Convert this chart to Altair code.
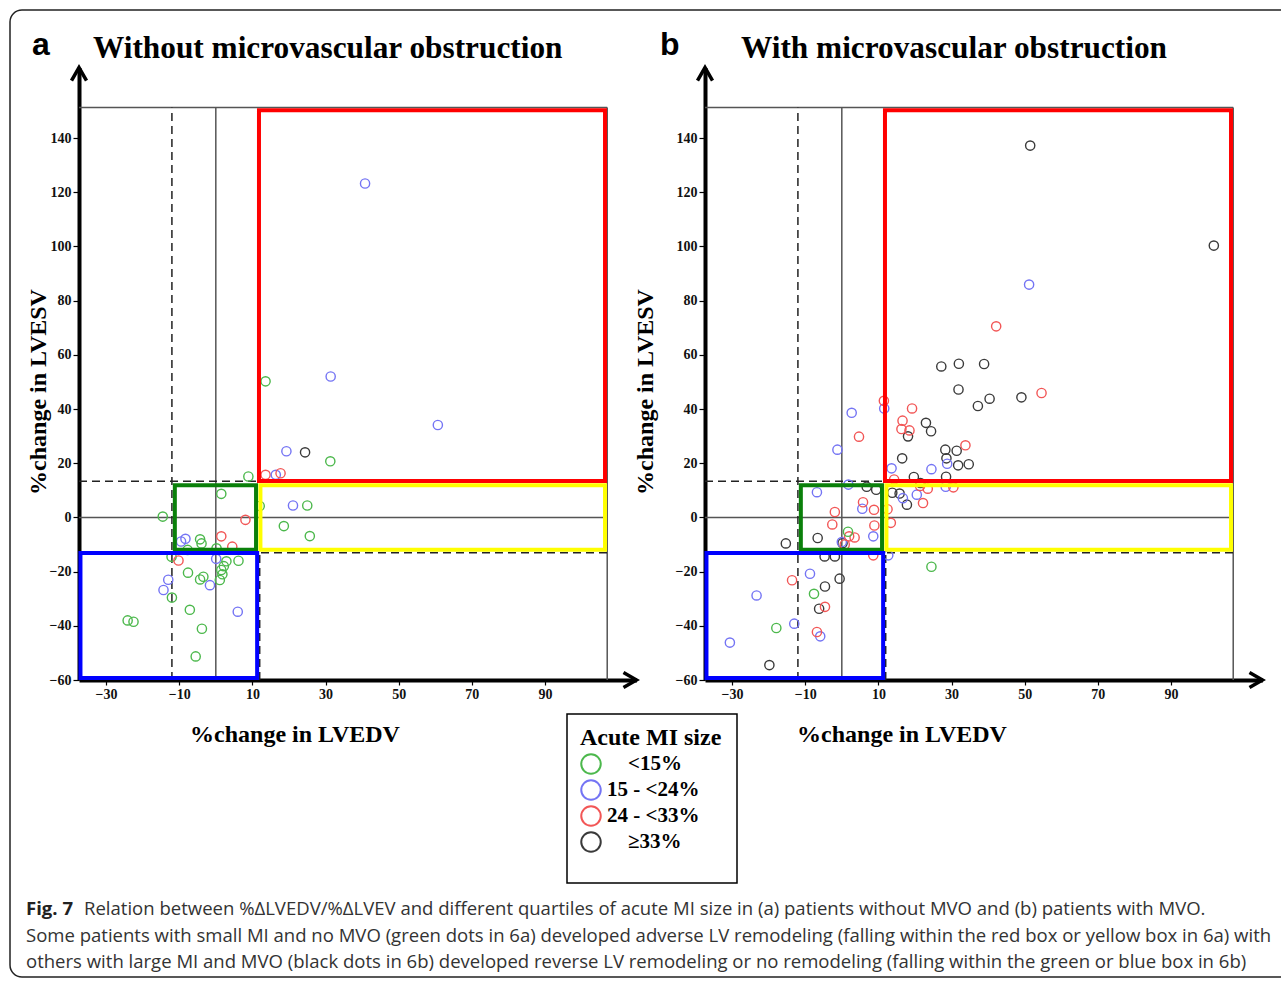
import altair as alt
import pandas as pd

# ---------------- data ----------------
SIZE_LABELS = ["<15%", "15 - <24%", "24 - <33%", "≥33%"]
SIZE_COLORS = ["#4cb84c", "#7474f4", "#f25656", "#3a3a3a"]

# panel a: without MVO (x = %change LVEDV, y = %change LVESV, q = MI size quartile index)
A_X = [40.8, 13.6, 31.4, 60.7, 19.3, 24.4, 31.3, 8.9, 13.6, 16.4, 17.7, 1.5, 12.0, 21.1, 25.0,
       -14.5, 8.1, 18.6, 25.7, 1.5, -4.3, -3.9, -8.3, -9.5, -7.7, 4.5, 0.2, -12.1, -10.2, 0.1,
       2.9, 6.2, 2.2, 1.5, 1.1, 1.8, -7.6, -4.3, -3.4, -1.6, -13.0, -14.3, -12.0, -7.1, 6.0,
       -24.1, -22.5, -3.8, -5.5]
A_Y = [123.2, 50.2, 52.0, 34.1, 24.4, 24.0, 20.7, 15.1, 15.7, 15.7, 16.3, 8.7, 4.2, 4.4, 4.4,
       0.3, -0.9, -3.2, -6.9, -7.0, -8.1, -9.6, -7.9, -8.9, -12.0, -10.8, -11.4, -14.5, -15.9, -15.3,
       -16.2, -16.0, -18.0, -19.4, -23.1, -21.0, -20.4, -22.9, -21.9, -25.0, -23.0, -26.8, -29.6, -34.1, -34.8,
       -38.0, -38.5, -41.1, -51.3]
A_Q = [1, 0, 1, 1, 1, 3, 0, 0, 2, 1, 2, 0, 0, 1, 0,
       0, 2, 0, 0, 2, 0, 0, 1, 1, 0, 2, 0, 0, 2, 1,
       0, 0, 0, 0, 0, 0, 0, 0, 0, 1, 1, 1, 0, 0, 1,
       0, 0, 0, 0]

# panel b: with MVO
B_X = [51.5, 101.7, 27.2, 32.0, 38.9, 31.9, 37.2, 40.4, 49.1, 18.1, 23.0, 24.4, 28.3, 31.4, 28.6,
       31.8, 34.7, 16.5, 28.5, 19.7, 21.5, 13.8, 15.8, 17.8, 6.8, 9.4, -6.6, 0.2, -15.3, -4.7,
       -1.9, -0.6, -4.6, -6.2, -19.8,
       51.2, 11.6, 2.7, -1.2, 28.8, 13.6, 24.5, 20.5, 28.4, 16.7, 1.8, -6.8, 5.6, 8.6, 0.0,
       12.7, -8.7, -23.3, -13.0, -5.9, -30.6,
       42.2, 54.6, 19.2, 11.5, 16.6, 16.3, 18.5, 33.8, 4.7, 14.3, 22.2, 23.5, 30.5, 21.4, 5.8,
       8.8, -1.9, 12.5, -2.6, 13.4, 8.9, 2.0, 3.5, 0.8, 8.6, -13.6, -4.6, -6.8,
       1.7, 24.5, -7.6, -17.9]
B_Y = [137.2, 100.3, 55.7, 56.7, 56.6, 47.2, 41.1, 43.8, 44.3, 29.9, 34.9, 31.8, 25.0, 24.6, 21.8,
       19.2, 19.6, 21.8, 15.0, 14.9, 12.7, 9.1, 8.8, 4.7, 11.3, 10.2, -7.6, -9.5, -9.6, -14.4,
       -14.4, -22.6, -25.5, -33.7, -54.5,
       85.9, 40.2, 38.6, 25.0, 19.8, 18.1, 17.8, 8.4, 11.3, 7.1, 12.1, 9.3, 3.2, -7.0, -9.1,
       -14.0, -20.8, -28.8, -39.2, -43.9, -46.2,
       70.5, 45.9, 40.2, 43.0, 35.7, 32.6, 32.1, 26.6, 29.8, 14.0, 5.3, 10.6, 11.1, 11.6, 5.6,
       2.8, 2.0, 3.0, -2.6, -2.0, -3.0, -7.0, -7.4, -10.0, -14.0, -23.2, -33.0, -42.3,
       -5.3, -18.2, -28.2, -40.8]
B_Q = [3] * 35 + [1] * 21 + [2] * 28 + [0] * 4

# axis ticks
X_TICKS = [-30, -10, 10, 30, 50, 70, 90]
Y_TICKS = [-60, -40, -20, 0, 20, 40, 60, 80, 100, 120, 140]

# reference lines / remodeling thresholds (data units)
X_MIN, X_FRAME, X_MAX = -37.4, 107.0, 115.0
Y_MIN, Y_FRAME, Y_MAX = -60.0, 151.3, 166.0
CUT_X_LO, CUT_X_HI = -12.0, 12.0
CUT_Y_LO, CUT_Y_HI = -13.0, 13.3

# remodeling boxes: x0, x1, y0, y1
BOX_RED = [11.8, 106.4, 13.4, 150.2]
BOX_YELLOW = [12.2, 106.4, -11.9, 11.9]
BOX_GREEN = [-11.2, 11.0, -11.9, 11.9]
BOX_BLUE = [-37.0, 11.3, -59.3, -13.1]
BOX_COLORS = ["#ff0000", "#ffff00", "#0a800a", "#0000ff"]

CAPTION = [
    "Relation between %ΔLVEDV/%ΔLVEV and different quartiles of acute MI size in (a) patients without MVO and (b) patients with MVO.",
    "Some patients with small MI and no MVO (green dots in 6a) developed adverse LV remodeling (falling within the red box or yellow box in 6a) with",
    "others with large MI and MVO (black dots in 6b) developed reverse LV remodeling or no remodeling (falling within the green or blue box in 6b)",
]

# ---------------- layout ----------------
W, H = 1281, 981
SERIF = "Liberation Serif"
SANS = "Liberation Sans"
CAPFONT = "Open Sans"
CAPSIZE = 18.55
Y_RANGE = [680, 680 - (Y_MAX - Y_MIN) * 2.71]
X_RANGE_A = [79, 79 + (X_MAX - X_MIN) * 3.658]
X_RANGE_B = [705, 705 + (X_MAX - X_MIN) * 3.658]
ONE = pd.DataFrame({"k": [0]})


def label(text, x, y, **kw):
    return alt.Chart(ONE).mark_text(text=text, **kw).encode(x=alt.value(x), y=alt.value(y))


def panel(xs, ys, qs, x_range, y_axis_x, show_legend):
    xsc = alt.Scale(domain=[X_MIN, X_MAX], range=x_range, nice=False, zero=False)
    ysc = alt.Scale(domain=[Y_MIN, Y_MAX], range=Y_RANGE, nice=False, zero=False)

    def X(f="x", axis=None):
        return alt.X(f"{f}:Q", scale=xsc, axis=axis)

    def Y(f="y", axis=None):
        return alt.Y(f"{f}:Q", scale=ysc, axis=axis)

    solid = pd.DataFrame({
        "x": [0, X_MIN, X_MIN, X_FRAME],
        "x2": [0, X_FRAME, X_FRAME, X_FRAME],
        "y": [Y_MIN, 0, Y_FRAME, Y_MIN],
        "y2": [Y_FRAME, 0, Y_FRAME, Y_FRAME],
    })
    dashed = pd.DataFrame({
        "x": [CUT_X_LO, X_MIN, X_MIN, CUT_X_HI],
        "x2": [CUT_X_LO, CUT_X_HI, X_FRAME, CUT_X_HI],
        "y": [Y_MIN, CUT_Y_HI, CUT_Y_LO, Y_MIN],
        "y2": [Y_FRAME, CUT_Y_HI, CUT_Y_LO, CUT_Y_LO],
    })
    l_solid = alt.Chart(solid).mark_rule(color="#555555", strokeWidth=1.5).encode(
        x=X(), x2="x2:Q", y=Y(), y2="y2:Q")
    l_dash = alt.Chart(dashed).mark_rule(color="#222222", strokeWidth=1.5, strokeDash=[8, 5]).encode(
        x=X(), x2="x2:Q", y=Y(), y2="y2:Q")

    pts = pd.DataFrame({"x": xs, "y": ys, "size": [SIZE_LABELS[q] for q in qs]})
    leg = None
    if show_legend:
        leg = alt.Legend(
            orient="none", legendX=580, legendY=726, title="Acute MI size",
            titleFont=SERIF, titleFontSize=24, titleFontWeight="bold", titleColor="#000",
            titlePadding=3, labelFont=SERIF, labelFontSize=21, labelFontWeight="bold",
            labelColor="#000", labelOffset=5, rowPadding=-2, symbolSize=380,
            symbolStrokeWidth=2, symbolType="circle",
            labelExpr="length(datum.label) < 6 ? '\u200b\u2003' + datum.label : datum.label",
        )
    ax_common = dict(title=None, grid=False, labelFont=SERIF, labelFontWeight="bold",
                     labelFontSize=14, labelColor="#111", tickColor="#000", tickWidth=1.2,
                     domainColor="#000", domainWidth=4)
    points = alt.Chart(pts).mark_point(filled=False, size=85, strokeWidth=1.4, opacity=1).encode(
        x=X(axis=alt.Axis(orient="bottom", offset=680 - H, values=X_TICKS, tickSize=5,
                          labelPadding=2, **ax_common)),
        y=Y(axis=alt.Axis(orient="left", offset=-y_axis_x, values=Y_TICKS, tickSize=6,
                          labelPadding=2, **ax_common)),
        color=alt.Color("size:N", scale=alt.Scale(domain=SIZE_LABELS, range=SIZE_COLORS), legend=leg),
    )

    boxes = []
    for b, c in zip([BOX_RED, BOX_YELLOW, BOX_GREEN, BOX_BLUE], BOX_COLORS):
        df = pd.DataFrame({"x": [b[0]], "x2": [b[1]], "y": [b[2]], "y2": [b[3]]})
        boxes.append(alt.Chart(df).mark_rect(fillOpacity=0, stroke=c, strokeWidth=4).encode(
            x=X(), x2="x2:Q", y=Y(), y2="y2:Q"))

    up = pd.DataFrame({"x": [X_MIN], "y": [Y_MAX]})
    right = pd.DataFrame({"x": [X_MAX], "y": [Y_MIN]})
    a_up = alt.Chart(up).mark_point(shape="M-0.75,1.3L0,0L0.75,1.3", size=400,
                                    filled=False, stroke="#000", strokeWidth=3.5, opacity=1).encode(x=X(), y=Y())
    a_right = alt.Chart(right).mark_point(shape="M-1.3,-0.75L0,0L-1.3,0.75", size=400,
                                          filled=False, stroke="#000", strokeWidth=3.5, opacity=1).encode(x=X(), y=Y())
    return [l_solid, l_dash, points] + boxes + [a_up, a_right]


frame = alt.Chart(ONE).mark_rect(fillOpacity=0, stroke="#222", strokeWidth=1.5, cornerRadius=12).encode(
    x=alt.value(10), x2=alt.value(1300), y=alt.value(10), y2=alt.value(977))
legend_box = alt.Chart(ONE).mark_rect(fillOpacity=0, stroke="#000", strokeWidth=1.5).encode(
    x=alt.value(567), x2=alt.value(737), y=alt.value(714), y2=alt.value(883))

texts = [
    label("a", 32, 55, font=SANS, fontSize=32, fontWeight="bold", align="left", baseline="alphabetic", color="#000"),
    label("Without microvascular obstruction", 93, 58, font=SERIF, fontSize=31.3, fontWeight="bold",
          align="left", baseline="alphabetic", color="#000"),
    label("b", 660, 55, font=SANS, fontSize=32, fontWeight="bold", align="left", baseline="alphabetic", color="#000"),
    label("With microvascular obstruction", 741, 58, font=SERIF, fontSize=31.3, fontWeight="bold",
          align="left", baseline="alphabetic", color="#000"),
    label("%change in LVEDV", 295, 735, font=SERIF, fontSize=24, fontWeight="bold", align="center",
          baseline="middle", color="#000"),
    label("%change in LVEDV", 902, 735, font=SERIF, fontSize=24, fontWeight="bold", align="center",
          baseline="middle", color="#000"),
    label("%change in LVESV", 39, 392, font=SERIF, fontSize=24, fontWeight="bold", align="center",
          baseline="middle", angle=270, color="#000"),
    label("%change in LVESV", 646, 392, font=SERIF, fontSize=24, fontWeight="bold", align="center",
          baseline="middle", angle=270, color="#000"),
    label("Fig. 7", 26, 909, font=CAPFONT, fontSize=CAPSIZE, fontWeight="bold", align="left",
          baseline="middle", color="#222"),
    label(CAPTION[0], 84, 909, font=CAPFONT, fontSize=CAPSIZE, align="left", baseline="middle", color="#333"),
    label(CAPTION[1], 26, 936, font=CAPFONT, fontSize=CAPSIZE, align="left", baseline="middle", color="#333"),
    label(CAPTION[2], 26, 962, font=CAPFONT, fontSize=CAPSIZE, align="left", baseline="middle", color="#333"),
]

layers = [frame, legend_box] + texts
layers += panel(A_X, A_Y, A_Q, X_RANGE_A, 79, True)
layers += panel(B_X, B_Y, B_Q, X_RANGE_B, 705, False)

chart = alt.layer(*layers).resolve_scale(x="independent", y="independent").properties(
    width=W, height=H, padding=0, autosize="none", background="white"
).configure_view(stroke=None)

chart.save("out.html", embed_options={"renderer": "svg", "actions": False})
